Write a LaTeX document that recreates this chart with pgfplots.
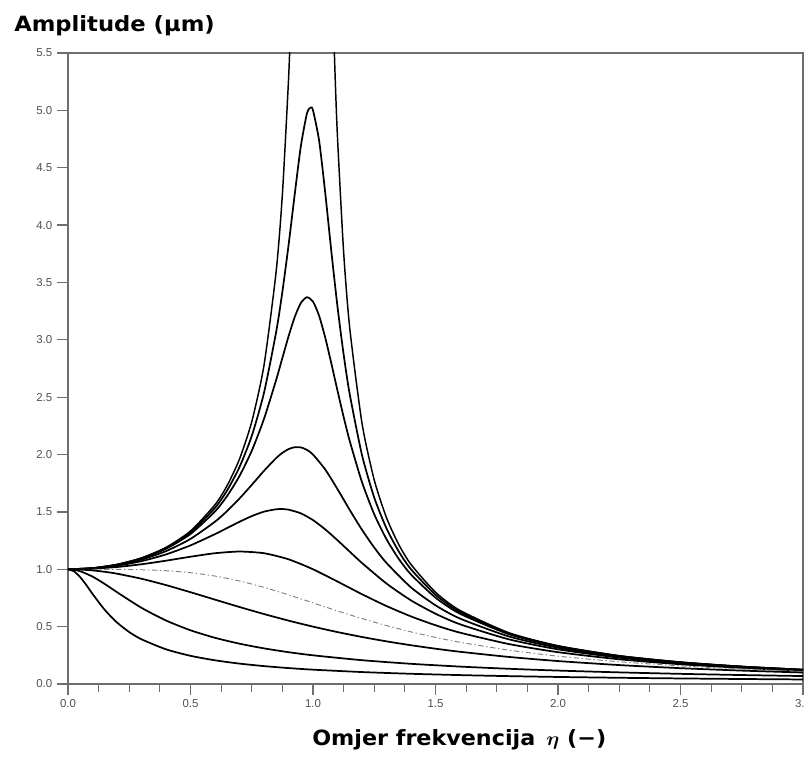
\documentclass[border=0pt]{standalone}
\usepackage{pgfplots}
\pgfplotsset{compat=1.18}
\usepackage{fontspec}
\setmainfont{Liberation Sans}
\newfontfamily\labfont{DejaVu Sans}
\usepackage{bm}
\definecolor{axgray}{RGB}{110,110,110}
\definecolor{tickgray}{RGB}{80,80,80}
\begin{document}
\begin{tikzpicture}
\begin{axis}[
 width=551.25pt, height=473.25pt, scale only axis,
 xmin=0, xmax=3, ymin=0, ymax=5.5,
 xtick={0,0.5,1,1.5,2,2.5,3},
 ytick={0,0.5,1,1.5,2,2.5,3,3.5,4,4.5,5,5.5},
 minor x tick num=3,
 tick align=outside, tick pos=left,
 major tick length=8.25pt, minor tick length=6pt,
 axis line style={axgray, line width=0.9pt},
 every tick/.style={axgray, line width=0.9pt},
 ticklabel style={font=\fontsize{8.6}{9}\selectfont, text=tickgray},
 /pgf/number format/fixed, /pgf/number format/fixed zerofill,
 /pgf/number format/precision=1, /pgf/number format/assume math mode=true,
 curve/.style={black, solid, line width=1.3pt, smooth, tension=0.4, mark=none},
]
% zeta = 0 (two branches)
\addplot[curve, line width=1.1pt] coordinates {(0,1) (0.1,1.0101) (0.2,1.0417) (0.3,1.0989) (0.4,1.1905) (0.5,1.3333) (0.6,1.5625) (0.65,1.7316) (0.7,1.9608) (0.75,2.2857) (0.8,2.7778) (0.85,3.6036) (0.875,4.2667) (0.9,5.2632) (0.91,5.817)};
\addplot[curve, line width=1.1pt] coordinates {(1.08,6.01) (1.09,5.316) (1.1,4.762) (1.125,3.7647) (1.15,3.1008) (1.2,2.2727) (1.25,1.7778) (1.3,1.4493) (1.35,1.2158) (1.4,1.0417) (1.5,0.8) (1.6,0.641) (1.8,0.4464) (2.0,0.3333) (2.25,0.2462) (2.5,0.1905) (2.75,0.1524) (3.0,0.125)};
% zeta = 0.1
\addplot[curve] coordinates {(0,1) (0.1,1.0099) (0.2,1.0408) (0.3,1.0965) (0.4,1.1851) (0.5,1.3216) (0.6,1.5357) (0.65,1.6893) (0.7,1.8908) (0.75,2.1621) (0.8,2.5384) (0.85,3.0728) (0.875,3.4188) (0.9,3.8207) (0.925,4.2614) (0.95,4.6826) (0.975,4.9714) (0.99,5.0251) (1.0,5.0) (1.025,4.7357) (1.05,4.2794) (1.075,3.7677) (1.1,3.288) (1.125,2.8726) (1.15,2.5245) (1.2,1.9952) (1.25,1.6245) (1.3,1.3562) (1.35,1.1552) (1.4,1.0) (1.5,0.7779) (1.6,0.6279) (1.8,0.4408) (2.0,0.3304) (2.25,0.2447) (2.5,0.1896) (2.75,0.1518) (3.0,0.1246)};
% zeta = 0.15
\addplot[curve] coordinates {(0,1) (0.1,1.0096) (0.2,1.0396) (0.3,1.0936) (0.4,1.1785) (0.5,1.3074) (0.6,1.5041) (0.65,1.6406) (0.7,1.8131) (0.75,2.0326) (0.8,2.3112) (0.85,2.6534) (0.875,2.8417) (0.9,3.0289) (0.925,3.1968) (0.95,3.3198) (0.975,3.3711) (1.0,3.3333) (1.025,3.2088) (1.05,3.0188) (1.075,2.7926) (1.1,2.5566) (1.125,2.3283) (1.15,2.1174) (1.2,1.759) (1.25,1.4792) (1.3,1.2617) (1.35,1.0907) (1.4,0.9543) (1.5,0.7527) (1.6,0.6127) (1.8,0.434) (2.0,0.3269) (2.25,0.2428) (2.5,0.1886) (2.75,0.1512) (3.0,0.1242)};
% zeta = 0.25
\addplot[curve] coordinates {(0,1) (0.1,1.0088) (0.2,1.0361) (0.3,1.0843) (0.4,1.1581) (0.5,1.2649) (0.6,1.4148) (0.65,1.509) (0.7,1.6167) (0.75,1.7354) (0.8,1.8582) (0.85,1.9701) (0.875,2.0148) (0.9,2.0472) (0.925,2.0639) (0.95,2.0623) (0.975,2.0409) (1.0,2.0) (1.05,1.8695) (1.1,1.6986) (1.15,1.5168) (1.2,1.344) (1.25,1.1893) (1.3,1.0549) (1.4,0.8417) (1.5,0.686) (1.6,0.5704) (1.8,0.4142) (2.0,0.3162) (2.25,0.2372) (2.5,0.1853) (2.75,0.1491) (3.0,0.1229)};
% zeta = 0.35
\addplot[curve] coordinates {(0,1) (0.1,1.0076) (0.2,1.0308) (0.3,1.0708) (0.4,1.1294) (0.5,1.2082) (0.6,1.3063) (0.65,1.3601) (0.7,1.4139) (0.75,1.4633) (0.8,1.5021) (0.85,1.5231) (0.875,1.5248) (0.9,1.5197) (0.95,1.4879) (1.0,1.4286) (1.05,1.3475) (1.1,1.2529) (1.15,1.1531) (1.2,1.0546) (1.3,0.8756) (1.4,0.7289) (1.5,0.6126) (1.6,0.5207) (1.8,0.3891) (2.0,0.3021) (2.25,0.2295) (2.5,0.1807) (2.75,0.1462) (3.0,0.1209)};
% zeta = 0.5
\addplot[curve] coordinates {(0,1) (0.1,1.005) (0.2,1.0198) (0.3,1.0436) (0.4,1.0748) (0.5,1.1094) (0.6,1.1399) (0.7,1.1546) (0.8,1.1399) (0.9,1.0871) (1.0,1.0) (1.1,0.893) (1.2,0.7824) (1.3,0.6795) (1.4,0.5891) (1.5,0.5121) (1.6,0.4475) (1.8,0.348) (2.0,0.2774) (2.25,0.2153) (2.5,0.172) (2.75,0.1405) (3.0,0.117)};
% zeta = 0.707 (dash-dot)
\addplot[curve, gray, line width=0.7pt, dash pattern=on 4pt off 2pt on 1pt off 2pt] coordinates {(0,1) (0.1,1.0) (0.2,0.9992) (0.3,0.996) (0.4,0.9874) (0.5,0.9701) (0.6,0.9409) (0.7,0.898) (0.8,0.8423) (0.9,0.7771) (1.0,0.7071) (1.1,0.637) (1.2,0.5704) (1.3,0.5092) (1.4,0.4545) (1.5,0.4061) (1.6,0.3638) (1.8,0.2949) (2.0,0.2425) (2.25,0.1938) (2.5,0.158) (2.75,0.1311) (3.0,0.1104)};
% zeta = 1
\addplot[curve] coordinates {(0,1) (0.05,0.9975) (0.1,0.9901) (0.15,0.978) (0.2,0.9615) (0.3,0.9174) (0.4,0.8621) (0.5,0.8) (0.6,0.7353) (0.7,0.6711) (0.8,0.6098) (0.9,0.5525) (1.0,0.5) (1.1,0.4525) (1.2,0.4098) (1.3,0.3717) (1.4,0.3378) (1.5,0.3077) (1.6,0.2809) (1.8,0.2358) (2.0,0.2) (2.25,0.1649) (2.5,0.1379) (2.75,0.1168) (3.0,0.1)};
% zeta = 2
\addplot[curve] coordinates {(0,1) (0.025,0.9957) (0.05,0.9829) (0.1,0.9365) (0.15,0.8719) (0.2,0.8002) (0.3,0.664) (0.4,0.5534) (0.5,0.4682) (0.6,0.4026) (0.7,0.3514) (0.8,0.3105) (0.9,0.2774) (1.0,0.25) (1.2,0.2075) (1.4,0.176) (1.6,0.1518) (1.8,0.1326) (2.0,0.117) (2.25,0.1013) (2.5,0.0885) (2.75,0.0781) (3.0,0.0693)};
% zeta = 4
\addplot[curve] coordinates {(0,1) (0.025,0.9812) (0.05,0.9305) (0.075,0.862) (0.1,0.7857) (0.15,0.6461) (0.2,0.5359) (0.25,0.4527) (0.3,0.3896) (0.4,0.3023) (0.5,0.2457) (0.6,0.2065) (0.7,0.1778) (0.8,0.156) (0.9,0.1388) (1.0,0.125) (1.2,0.1041) (1.4,0.089) (1.6,0.0776) (1.8,0.0686) (2.0,0.0614) (2.25,0.0542) (2.5,0.0484) (2.75,0.0436) (3.0,0.0395)};
\coordinate (O) at (axis cs:0,0);
\coordinate (TL) at (axis cs:0,5.5);
\coordinate (TR) at (axis cs:3,5.5);
\end{axis}
\node[anchor=base west, inner sep=0pt, font=\labfont\bfseries\fontsize{15.75}{18}\selectfont]
  at ([xshift=-40.5pt, yshift=15.75pt]TL) {\scalebox{1.08}[1]{Amplitude (μm)}};
\node[anchor=base west, inner sep=0pt, font=\labfont\bfseries\fontsize{15.75}{18}\selectfont]
  at ([xshift=183pt, yshift=-45.75pt]O) {\scalebox{1.06}[1]{Omjer frekvencija\enspace$\bm{\eta}$ (−)}};
\pgfresetboundingbox
\path ([xshift=-51pt, yshift=-56.25pt]O) rectangle ([xshift=1.5pt, yshift=39.75pt]TR);
\end{tikzpicture}
\end{document}
